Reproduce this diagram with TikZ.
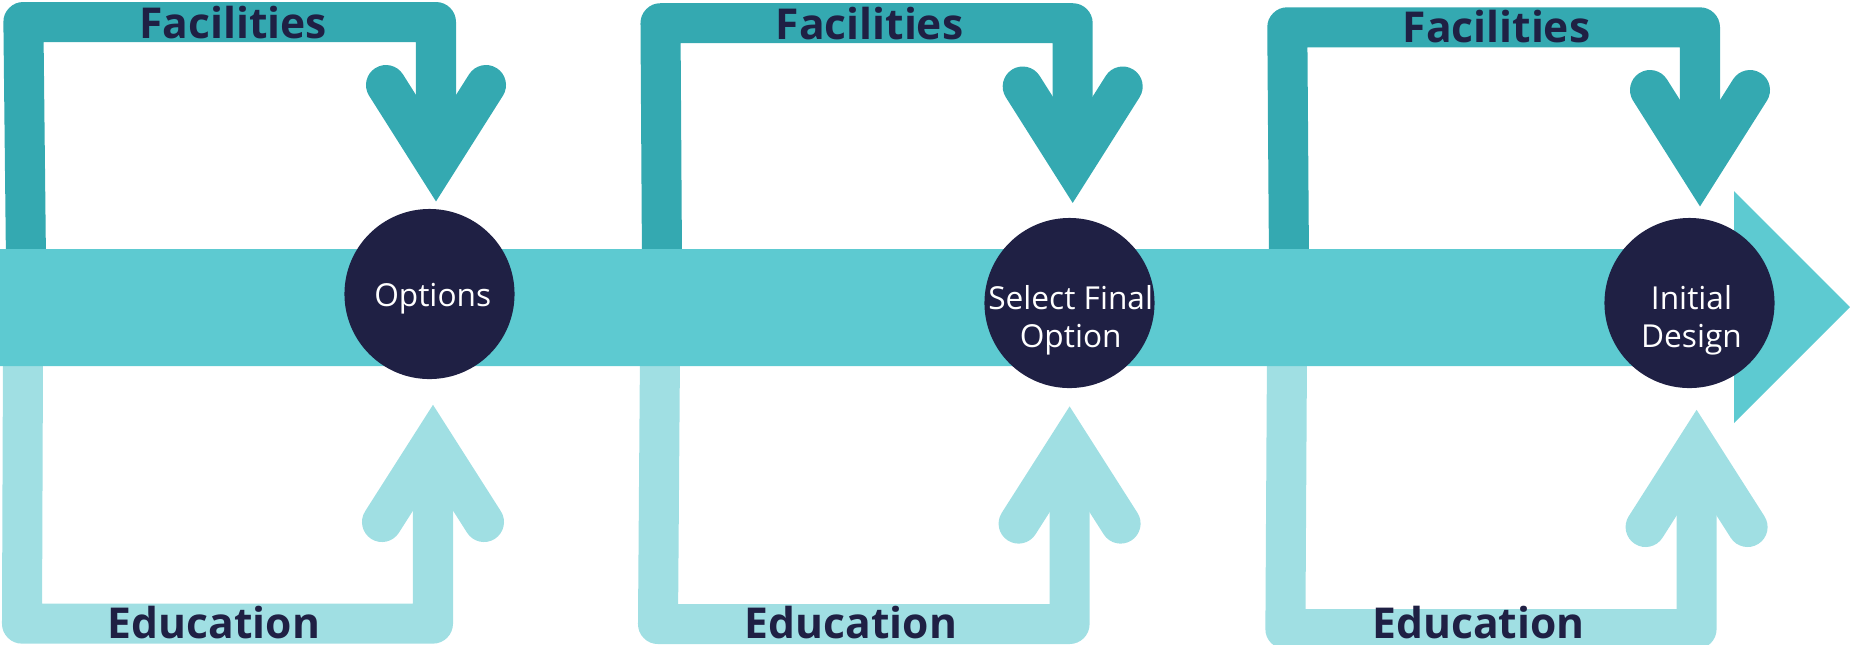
\documentclass[tikz,border=0pt]{standalone}
\usepackage{fontspec}
\setmainfont{Open Sans}
\usepackage{xcolor}
\usetikzlibrary{calc,
	positioning}
\definecolor{facilcol}{HTML}{34A9B1}
\definecolor{bandcol}{HTML}{5DCAD1}
\definecolor{educol}{HTML}{A0DFE3}
\definecolor{stagecol}{HTML}{1F2044}

\begin{document}
\begin{tikzpicture}[x=0.01cm, y=-0.01cm,
                    facilities/.style={draw=facilcol, line width=0.4cm, line join=round},
                    education/.style={draw=educol, line width=0.4cm, line join=round},
                    head/.style={line cap=round, line join=miter},
                    stage/.style={fill=stagecol, circle, minimum size=1.7cm, inner sep=0pt},
                    stagetext/.style={text=white, font=\fontsize{9}{10.8}\selectfont, align=center, anchor=base},
                    loopname/.style={text=stagecol, font=\fontsize{12.1}{14}\selectfont\bfseries, anchor=base}]
                            \useasboundingbox (0,0) rectangle (1850,644);
                            \coordinate (fac1) at (26,262);
                            \coordinate (edu1) at (23,352);
                            \coordinate (fac2) at (662,262);
                            \coordinate (edu2) at (660,352);
                            \coordinate (fac3) at (1289,262);
                            \coordinate (edu3) at (1287,352);
                            \coordinate (fhead1) at (436,164);
                            \coordinate (ehead1) at (433,442);
                            \coordinate (fhead2) at (1072.7,165.5);
                            \coordinate (ehead2) at (1069.6,443.6);
                            \coordinate (fhead3) at (1700,169);
                            \coordinate (ehead3) at (1696.6,447);
                            \draw[facilities] (fac1) -- (23.4,22) -- (fhead1 |- 0,22) -- (fhead1);
                            \draw[facilities, head] ($(fhead1)+(-50,-79)$) -- (fhead1) -- ($(fhead1)+(50,-79)$);
                            \draw[education] (edu1) -- (22,623.6) -- (ehead1 |- 0,623.6) -- (ehead1);
                            \draw[education, head] ($(ehead1)+(-51,80)$) -- (ehead1) -- ($(ehead1)+(51,80)$);
                            \draw[facilities] (fac2) -- (660.5,23.2) -- (fhead2 |- 0,23.2) -- (fhead2);
                            \draw[facilities, head] ($(fhead2)+(-50,-79)$) -- (fhead2) -- ($(fhead2)+(50,-79)$);
                            \draw[education] (edu2) -- (658,624) -- (ehead2 |- 0,624) -- (ehead2);
                            \draw[education, head] ($(ehead2)+(-51,80)$) -- (ehead2) -- ($(ehead2)+(51,80)$);
                            \draw[facilities] (fac3) -- (1287.3,27.3) -- (fhead3 |- 0,27.3) -- (fhead3);
                            \draw[facilities, head] ($(fhead3)+(-50,-79)$) -- (fhead3) -- ($(fhead3)+(50,-79)$);
                            \draw[education] (edu3) -- (1285.4,629) -- (ehead3 |- 0,629) -- (ehead3);
                            \draw[education, head] ($(ehead3)+(-51,80)$) -- (ehead3) -- ($(ehead3)+(51,80)$);
                            \fill[bandcol] (0,249) -- (1734,249) -- (1734,191) -- (1850,307) -- (1734,423) -- (1734,366) -- (0,366) -- cycle;
                            \node (options) [stage] at (429.5,294) {};
                            \node (select) [stage] at (1069.5,303) {};
                            \node (initial) [stage] at (1689.5,303) {};
                            \node (optionslabel) [stagetext] at (432.7,306) {Options};
                            \node (selectlabel) [stagetext] at (1070.7,347) {Select Final\\Option};
                            \node (initiallabel) [stagetext] at (1691.5,347) {Initial\\Design};
                            \node (fac1label) [loopname] at (233,38) {Facilities};
                            \node (edu1label) [loopname] at (214,638.6) {Education};
                            \node (fac2label) [loopname] at (869.5,39) {Facilities};
                            \node (edu2label) [loopname] at (851,638.6) {Education};
                            \node (fac3label) [loopname] at (1496.5,42.3) {Facilities};
                            \node (edu3label) [loopname] at (1478.7,638.6) {Education};
                        \end{tikzpicture}
\end{document}
